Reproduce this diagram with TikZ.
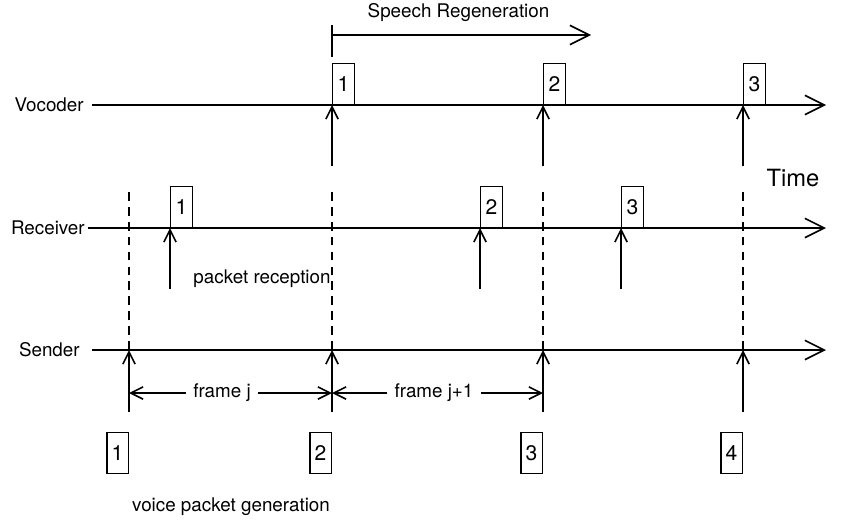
\documentclass[tikz,border=0pt]{standalone}
\usepackage{fontspec}
\setmainfont{TeX Gyre Heros}
\usepackage{tikz}
\usetikzlibrary{positioning, arrows.meta, calc}

\begin{document}
\begin{tikzpicture}[
    x=0.2mm, y=-0.2mm,
    font=\fontsize{10.7}{12}\selectfont,
    axis/.style={-{Straight Barb[length=11pt, width=11pt, line width=0.9pt]}, line width=0.9pt},
    tick/.style={-{Straight Barb[length=7pt, width=7pt, line width=0.9pt]}, line width=0.9pt},
    guide/.style={line width=0.9pt, dash pattern=on 5pt off 3.5pt},
    packet/.style={draw, line width=0.8pt, minimum width=4.3mm, minimum height=8.2mm, inner sep=0pt, font=\fontsize{12}{13}\selectfont},
    lane/.style={anchor=east, inner sep=0pt}
]
\useasboundingbox (0,0) rectangle (866,520);

% Lane labels
\node[lane] (vocoder)  at (84,105) {Vocoder};
\node[lane] (receiver) at (85,228) {Receiver};
\node[lane] (sender)   at (80,350) {Sender};

% Lane end points
\coordinate (vocoder_end)  at (826,105);
\coordinate (receiver_end) at (826,228);
\coordinate (sender_end)   at (826,350);

% Time axes
\draw[axis] ([xshift=1.6mm]vocoder.east)  -- (vocoder_end);
\draw[axis] ([xshift=0.6mm]receiver.east) -- (receiver_end);
\draw[axis] ([xshift=2.4mm]sender.east)   -- (sender_end);

\node[font=\fontsize{13.5}{15}\selectfont] (time) at (793,178) {Time};

% Frame instants on each lane
\coordinate (s1) at (129,350);
\coordinate (s2) at (332,350);
\coordinate (s3) at (543,350);
\coordinate (s4) at (743,350);
\coordinate (v2) at (332,105);
\coordinate (v3) at (543,105);
\coordinate (v4) at (743,105);
\coordinate (r1) at (170,228);
\coordinate (r2) at (480,228);
\coordinate (r3) at (621,228);

% Dashed frame boundaries
\draw[guide] (s1) -- ++(0,-162);
\draw[guide] (s2) -- ++(0,-164);
\draw[guide] (s3) -- ++(0,-164);
\draw[guide] (s4) -- ++(0,-164);

% Playout instants at the vocoder
\draw[tick] (v2) ++(0,61) -- (v2);
\draw[tick] (v3) ++(0,61) -- (v3);
\draw[tick] (v4) ++(0,61) -- (v4);

% Packets handed to the vocoder
\node[packet, anchor=south west] (vpkt1) at (v2) {1};
\node[packet, anchor=south west] (vpkt2) at (v3) {2};
\node[packet, anchor=south west] (vpkt3) at (v4) {3};

% Packet arrivals at the receiver
\draw[tick] (r1) ++(0,61) -- (r1);
\draw[tick] (r2) ++(0,61) -- (r2);
\draw[tick] (r3) ++(0,61) -- (r3);
\node[packet, anchor=south west] (rpkt1) at (r1) {1};
\node[packet, anchor=south west] (rpkt2) at (r2) {2};
\node[packet, anchor=south west] (rpkt3) at (r3) {3};
\node[anchor=west, inner sep=0pt] (reception) at (193,279) {packet reception};

% Packet generation at the sender
\draw[tick] (s1) ++(0,62) -- (s1);
\draw[tick] (s2) ++(0,62) -- (s2);
\draw[tick] (s3) ++(0,62) -- (s3);
\draw[tick] (s4) ++(0,62) -- (s4);
\node[packet, anchor=north east] (gpkt1) at (129,432) {1};
\node[packet, anchor=north east] (gpkt2) at (332,432) {2};
\node[packet, anchor=north east] (gpkt3) at (543,432) {3};
\node[packet, anchor=north east] (gpkt4) at (743,432) {4};
\node (generation) at (231,507) {voice packet generation};

% Frame lengths
\node[inner sep=1.4mm] (framej)  at (222,393) {frame j};
\node[inner sep=1.4mm] (framej1) at (434,393) {frame j+1};
\draw[tick] (framej.west)  -- (s1 |- framej.west);
\draw[tick] (framej.east)  -- (s2 |- framej.east);
\draw[tick] (framej1.west) -- (s2 |- framej1.west);
\draw[tick] (framej1.east) -- (s3 |- framej1.east);

% Speech regeneration span
\coordinate (regen_start) at (332,35);
\coordinate (regen_end)   at (591,35);
\draw[line width=0.9pt] (regen_start) ++(0,-10) -- ++(0,32);
\draw[axis] (regen_start) -- node[above=1.3mm, xshift=-0.6mm] (regen) {Speech Regeneration} (regen_end);

\end{tikzpicture}
\end{document}
